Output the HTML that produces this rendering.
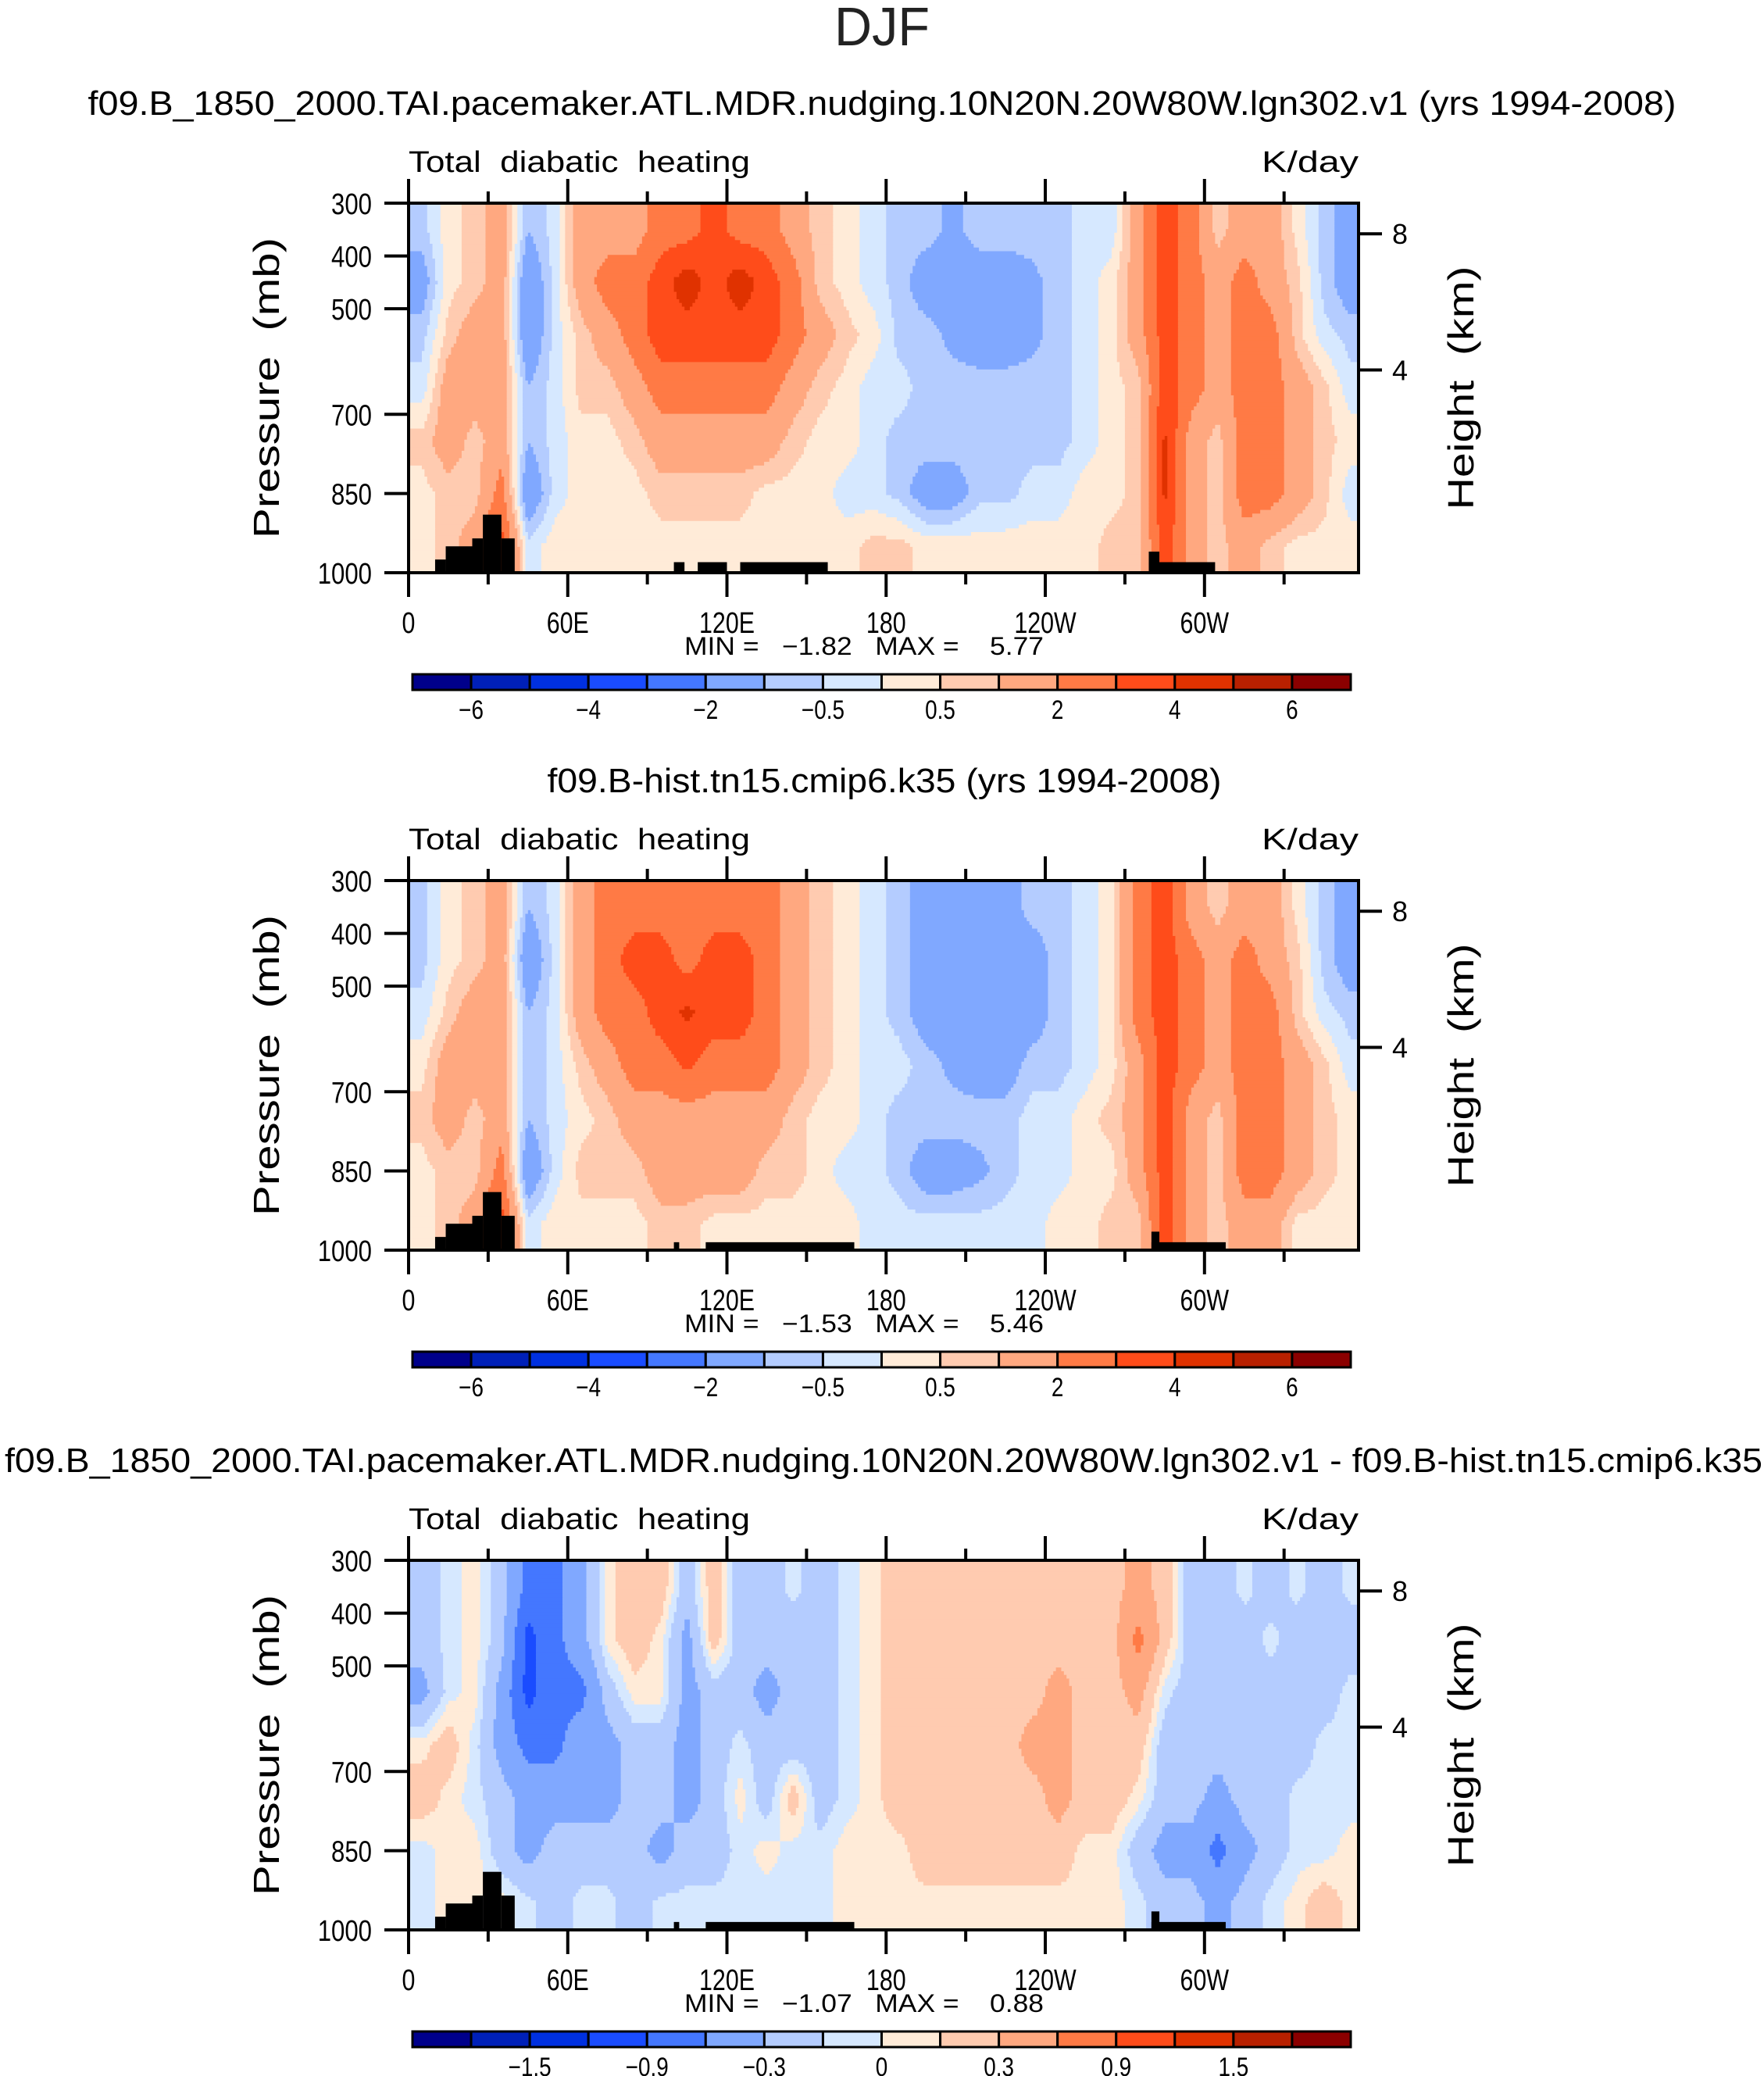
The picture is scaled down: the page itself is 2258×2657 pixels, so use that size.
<!DOCTYPE html>
<html><head><meta charset="utf-8"><style>
html,body{margin:0;padding:0;background:#fff;}
svg{display:block;font-family:"Liberation Sans",sans-serif;}
text{white-space:pre;}
</style></head><body>
<svg id="fig" width="2258" height="2657" viewBox="0 0 2258 2657" xmlns="http://www.w3.org/2000/svg">
<rect x="0" y="0" width="2258" height="2657" fill="#fff"/>
<text x="1129" y="58" font-size="70" text-anchor="middle" textLength="122" lengthAdjust="spacingAndGlyphs" fill="#222">DJF</text>
</svg>
<script>
// ---- data ----
const lonCenters = [0,10,20,30,40,50,60,70,80,90,100,110,120,130,140,150,160,170,180,190,200,210,220,230,240,250,260,270,280,290,300,310,320,330,340,350];
const levelEdges = [300,400,500,600,700,800,900,1000];
const levels12 = [-6,-5,-4,-3,-2,-1,-0.5,0,0.5,1,2,3,4,5,6];
const levels3 = [-1.8,-1.5,-1.2,-0.9,-0.6,-0.3,-0.1,0,0.1,0.3,0.6,0.9,1.2,1.5,1.8];
const barLabels12 = ["-6","-4","-2","-0.5","0.5","2","4","6"];
const barLabelIdx12 = [1,3,5,7,9,11,13,15];
const barLabels3 = ["-1.5","-0.9","-0.3","0","0.3","0.9","1.5"];
const barLabelIdx3 = [2,4,6,8,10,12,14];
const lonTickVals = [0,60,120,180,240,300];
const lonTickLabels = ["0","60E","120E","180","120W","60W"];
const presTicks = [300,400,500,700,850,1000];
const heightTickP = [358,616];
const heightTickLabels = ["8","4"];
const palette = ["#00008b","#0020b8","#0030e0","#1a4cff","#4477ff","#80a8ff","#b4ccff","#d6e8ff","#ffebd8","#ffcbb0","#ffa880","#ff7a45","#ff4c1a","#e03200","#b82000","#8b0000"];

const field1 = [
[-0.7,0.3,0.7,1.5,-1.0,-0.3,1.5,1.5,1.5,2.5,2.5,3.5,2.5,2.5,1.5,0.7,0.3,-0.3,-0.7,-0.7,-1.2,-0.7,-0.7,-0.7,-0.7,-0.3,-0.3,1.5,3.5,2.5,0.7,1.5,1.5,0.3,-0.7,-1.5],
[-1.5,0.3,0.7,1.5,-1.9,-0.3,1.5,2.5,2.5,3.5,4.6,3.5,4.6,3.5,2.5,0.7,0.3,-0.3,-0.7,-1.5,-1.5,-1.5,-1.5,-1.2,-0.7,-0.3,0.3,1.5,3.5,2.5,1.5,2.5,1.5,0.7,-0.7,-1.5],
[-0.7,0.7,1.5,1.5,-1.9,-0.3,0.7,1.5,2.5,3.5,3.5,3.5,3.5,3.5,2.5,1.5,0.7,0.3,-0.7,-0.7,-1.2,-1.5,-1.5,-1.2,-0.7,-0.3,0.3,1.5,3.5,2.5,1.5,2.5,2.5,0.7,-0.3,-0.7],
[-0.3,1.5,1.5,1.5,-1.0,-0.3,0.7,0.7,1.5,2.5,2.5,2.5,2.5,2.5,1.5,0.7,0.3,-0.3,-0.3,-0.7,-0.7,-0.7,-0.7,-0.7,-0.7,-0.3,0.3,0.7,3.5,2.5,1.5,2.5,2.5,1.5,0.7,-0.3],
[0.7,1.5,0.7,1.5,-1.0,-0.3,0.3,0.3,0.7,1.5,1.5,1.5,1.5,1.5,0.7,0.3,0.3,-0.3,-0.7,-0.7,-0.7,-0.7,-0.7,-0.7,-0.7,-0.3,0.3,0.7,4.2,1.5,0.7,2.5,2.5,1.5,0.7,0.3],
[0.3,0.7,0.7,2.5,-1.9,-0.3,0.3,0.3,0.3,0.7,0.7,0.7,0.7,0.3,0.3,0.3,-0.3,-0.3,-0.7,-1.5,-1.5,-0.7,-0.7,-0.3,-0.3,0.3,0.3,0.7,4.2,1.5,0.7,2.5,2.5,1.5,0.7,-0.3],
[0.3,0.7,1.5,3.5,-0.3,0.3,0.3,0.3,0.3,0.3,0.3,0.3,0.3,0.3,0.3,0.3,0.3,0.7,0.7,0.3,0.3,0.3,0.3,0.3,0.3,0.3,0.7,0.7,3.5,1.5,0.7,1.5,0.7,0.3,0.3,0.3]
];
const field2 = [
[-0.7,0.3,0.7,1.5,-1.0,-0.3,1.5,2.5,2.5,2.5,2.5,2.5,2.5,2.5,1.5,0.7,0.3,-0.3,-0.7,-1.5,-1.5,-1.5,-1.5,-0.7,-0.7,-0.3,0.3,2.5,3.5,1.5,0.7,1.5,1.5,0.3,-0.7,-1.5],
[-0.7,0.3,0.7,1.5,-1.9,-0.3,1.5,2.5,3.5,3.5,2.5,3.5,3.5,2.5,1.5,0.7,0.3,-0.3,-0.7,-1.5,-1.5,-1.5,-1.5,-1.5,-0.7,-0.3,0.3,2.5,3.5,2.5,1.5,2.5,1.5,0.7,-0.7,-1.5],
[-0.3,0.7,1.5,1.5,-1.0,-0.3,1.5,2.5,2.5,3.5,4.2,3.5,3.5,2.5,1.5,0.7,0.3,-0.3,-0.7,-1.5,-1.5,-1.5,-1.5,-1.5,-0.7,-0.3,0.3,2.5,3.5,2.5,1.5,2.5,2.5,0.7,-0.3,-0.7],
[0.3,1.5,1.5,1.5,-1.0,-0.3,0.7,1.5,2.5,2.5,3.2,2.5,2.5,2.5,1.5,0.7,0.3,-0.3,-0.3,-0.7,-1.2,-1.5,-1.5,-0.7,-0.7,-0.3,0.3,1.5,3.5,2.5,1.5,2.5,2.5,1.5,0.7,-0.3],
[0.7,1.5,0.7,1.5,-1.0,-0.3,0.3,0.7,1.5,1.5,1.5,1.5,1.5,1.5,0.7,0.3,0.3,-0.3,-0.7,-0.7,-0.7,-0.7,-0.7,-0.3,-0.3,0.3,0.7,1.5,3.5,1.5,0.7,2.5,2.5,1.5,0.7,0.3],
[0.3,0.7,0.7,2.5,-1.9,-0.3,0.7,0.7,0.7,1.5,1.5,1.5,1.5,0.7,0.7,0.3,-0.3,-0.3,-0.7,-1.5,-1.5,-1.2,-0.7,-0.3,-0.3,0.3,0.3,1.5,3.5,1.5,0.7,2.5,2.5,1.5,0.7,0.3],
[0.3,0.7,1.5,3.5,-0.3,0.3,0.3,0.3,0.3,0.7,0.7,0.3,0.3,0.3,0.3,0.3,0.3,-0.3,-0.3,-0.3,-0.3,-0.3,-0.3,-0.3,0.3,0.3,0.7,0.7,3.5,1.5,0.7,1.5,1.5,0.3,0.3,0.3]
];
const field3 = [
[-0.2,-0.05,0.05,-0.2,-0.7,-0.7,-0.4,0.05,0.2,0.2,-0.2,0.2,-0.2,-0.2,-0.05,-0.2,-0.05,0.05,0.2,0.2,0.2,0.2,0.2,0.2,0.2,0.2,0.2,0.4,0.2,-0.2,-0.2,-0.05,-0.2,-0.05,-0.2,-0.05],
[-0.2,-0.05,0.05,-0.2,-1.0,-0.7,-0.4,0.05,0.2,0.05,-0.4,0.2,-0.2,-0.2,-0.2,-0.2,-0.05,0.05,0.2,0.2,0.2,0.2,0.2,0.2,0.2,0.2,0.2,0.7,0.2,-0.2,-0.2,-0.2,-0.05,-0.2,-0.2,-0.2],
[-0.4,-0.05,0.05,-0.4,-1.0,-0.7,-0.7,-0.2,0.05,0.05,-0.4,-0.2,-0.2,-0.4,-0.2,-0.2,-0.05,0.05,0.2,0.2,0.2,0.2,0.2,0.2,0.4,0.2,0.2,0.4,-0.05,-0.2,-0.2,-0.2,-0.2,-0.2,-0.2,-0.05],
[0.05,0.2,-0.05,-0.4,-0.7,-0.7,-0.4,-0.4,-0.2,-0.2,-0.4,-0.2,-0.05,-0.2,-0.2,-0.2,-0.05,0.05,0.2,0.2,0.2,0.2,0.2,0.4,0.4,0.2,0.2,0.2,-0.2,-0.2,-0.2,-0.2,-0.2,-0.2,-0.05,-0.05],
[0.2,0.05,-0.05,-0.2,-0.4,-0.4,-0.4,-0.4,-0.2,-0.2,-0.4,-0.2,0.05,-0.2,0.2,-0.2,-0.05,0.05,0.2,0.2,0.2,0.2,0.2,0.2,0.4,0.2,0.2,0.05,-0.2,-0.2,-0.4,-0.2,-0.2,-0.05,-0.05,-0.05],
[-0.05,0.05,0.05,-0.2,-0.4,-0.2,-0.2,-0.2,-0.2,-0.4,-0.2,-0.2,-0.05,0.05,-0.05,-0.05,0.05,0.05,0.05,0.2,0.2,0.2,0.2,0.2,0.2,0.05,0.05,-0.2,-0.4,-0.4,-0.7,-0.4,-0.2,-0.05,-0.05,0.05],
[-0.05,0.05,0.05,0.05,-0.05,-0.2,-0.05,-0.05,-0.2,-0.05,-0.05,-0.05,-0.05,-0.05,-0.05,-0.05,0.05,0.05,0.05,0.05,0.05,0.05,0.05,0.05,0.05,0.05,0.05,-0.05,-0.2,-0.2,-0.4,-0.2,-0.05,0.05,0.2,0.05]
];
// topography: [lonStart, lonEnd, surfacePressure]
const topo1 = [[10,14,975],[14,24,950],[24,28,935],[28,35,890],[35,40,935],[100,104,980],[109,120,980],[125,158,980],[279,283,960],[279,304,980]];
const topo23 = [[10,14,975],[14,24,950],[24,28,935],[28,35,890],[35,40,935],[100,102,985],[112,168,985],[280,283,965],[280,308,985]];
const subtitles = ["f09.B_1850_2000.TAI.pacemaker.ATL.MDR.nudging.10N20N.20W80W.lgn302.v1 (yrs 1994-2008)","f09.B-hist.tn15.cmip6.k35 (yrs 1994-2008)","f09.B_1850_2000.TAI.pacemaker.ATL.MDR.nudging.10N20N.20W80W.lgn302.v1 - f09.B-hist.tn15.cmip6.k35"];
const minVals = ["-1.82","-1.53","-1.07"];
const maxVals = ["5.77","5.46","0.88"];

// ---- layout ----
const NS="http://www.w3.org/2000/svg";
const svg=document.getElementById('fig');
const PX0=523, PX1=1739, PH=473;
const panelTops=[260,1127,1997];
const subX=[[1129,2033],[1132,863],[1131,2250]];
function mk(tag,attrs,parent){const e=document.createElementNS(NS,tag);for(const k in attrs)e.setAttribute(k,attrs[k]);(parent||svg).appendChild(e);return e;}
const xLon=l=>PX0+l*3.396;
function colorIdx(v,levs){let i=0;while(i<levs.length&&v>=levs[i])i++;return i;}
function sample(field,lon,p){
  const nC=lonCenters.length, nR=levelEdges.length-1;
  let fc=(lon-(lonCenters[0]+5))/10; fc=Math.max(0,Math.min(nC-1,fc));
  const rc=levelEdges.slice(0,-1).map((e,i)=>(e+levelEdges[i+1])/2);
  let fr=(p-rc[0])/(rc[1]-rc[0]); fr=Math.max(0,Math.min(nR-1,fr));
  const c0=Math.floor(fc),c1=Math.min(nC-1,c0+1),r0=Math.floor(fr),r1=Math.min(nR-1,r0+1);
  const tc=fc-c0,tr=fr-r0;
  const a=field[r0][c0]*(1-tc)+field[r0][c1]*tc;
  const b=field[r1][c0]*(1-tc)+field[r1][c1]*tc;
  return a*(1-tr)+b*tr;
}

panelTops.forEach((top,pi)=>{
  const yP=p=>top+(p-300)/700*PH;
  const g=mk('g',{});
  
  
  const field=[field1,field2,field3][pi];
  const levs=pi<2?levels12:levels3;
  const cells=mk('g',{},g);
  
  
  const dLon=1, dP=7, maxLon=(PX1-PX0)/3.396;
  for(let p=300;p<1000;p+=dP){
    let runStart=0, runIdx=colorIdx(sample(field,0.5,p+dP/2),levs);
    const flush=(endLon)=>{
      const x0=xLon(runStart), x1=xLon(Math.min(endLon,maxLon));
      const r=mk('rect',{x:x0,y:yP(p),width:x1-x0+0.5,height:yP(p+dP)-yP(p)+0.5,fill:palette[runIdx]},cells);
      
      
    };
    for(let l=dLon;l<maxLon;l+=dLon){
      const ci=colorIdx(sample(field,l+dLon/2,p+dP/2),levs);
      if(ci!==runIdx){flush(l);runStart=l;runIdx=ci;}
    }
    flush(maxLon);
  }
  const topo=pi===0?topo1:topo23;
  topo.forEach(t=>{
    const r=mk('rect',{x:xLon(t[0]),y:yP(t[2]),width:xLon(t[1])-xLon(t[0]),height:yP(1000)-yP(t[2]),fill:'#000'},g);
    
    
  });
  const fr=mk('rect',{x:PX0,y:top,width:PX1-PX0,height:PH,fill:'none',stroke:'#000','stroke-width':4},g);
  
  
  for(let l=0;l<=330;l+=30){
    const major=l%60===0, len=major?31:15;
    mk('line',{x1:xLon(l),x2:xLon(l),y1:top,y2:top-len,stroke:'#000','stroke-width':4},g);
    mk('line',{x1:xLon(l),x2:xLon(l),y1:top+PH,y2:top+PH+len,stroke:'#000','stroke-width':4},g);
  }
  lonTickVals.forEach((l,i)=>{
    const x=xLon(l);
    const t=mk('text',{x:x,y:top+PH+77,'font-size':38,'text-anchor':'middle',transform:'translate('+x+',0) scale(0.8,1) translate('+(-x)+',0)'},g);
    t.textContent=lonTickLabels[i];
    
    
  });
  presTicks.forEach(p=>{
    mk('line',{x1:PX0-31,x2:PX0,y1:yP(p),y2:yP(p),stroke:'#000','stroke-width':4},g);
    const t=mk('text',{x:476,y:yP(p)+14,'font-size':38,'text-anchor':'end',transform:'translate(476,0) scale(0.82,1) translate(-476,0)'},g);
    t.textContent=String(p);
    
    
  });
  heightTickP.forEach((p,i)=>{
    mk('line',{x1:PX1,x2:PX1+30,y1:yP(p),y2:yP(p),stroke:'#000','stroke-width':4},g);
    const t=mk('text',{x:1782,y:yP(p)+13,'font-size':36},g);
    t.textContent=heightTickLabels[i];
    
    
  });
  const cy=top+PH/2;
  const yl=mk('text',{x:0,y:0,'font-size':46,'text-anchor':'middle',transform:'translate(357,'+cy+') rotate(-90)',textLength:385,lengthAdjust:'spacingAndGlyphs'},g);
  yl.textContent='Pressure  (mb)';
  
  
  const hl=mk('text',{x:0,y:0,'font-size':46,'text-anchor':'middle',transform:'translate(1886,'+cy+') rotate(-90)',textLength:312,lengthAdjust:'spacingAndGlyphs'},g);
  hl.textContent='Height  (km)';
  
  
  const lt=mk('text',{x:523,y:top-40,'font-size':38,textLength:437,lengthAdjust:'spacingAndGlyphs'},g);
  lt.textContent='Total  diabatic  heating';
  
  
  const rt=mk('text',{x:1739,y:top-40,'font-size':38,'text-anchor':'end',textLength:124,lengthAdjust:'spacingAndGlyphs'},g);
  rt.textContent='K/day';
  
  
  const st=mk('text',{x:subX[pi][0],y:top-113,'font-size':44,'text-anchor':'middle',textLength:subX[pi][1],lengthAdjust:'spacingAndGlyphs'},g);
  st.textContent=subtitles[pi];
  
  
  const mm=mk('text',{x:1106,y:top+PH+105,'font-size':32,'text-anchor':'middle',textLength:460,lengthAdjust:'spacingAndGlyphs'},g);
  mm.textContent='MIN =   '+minVals[pi].replace('-','\u2212')+'   MAX =    '+maxVals[pi];
  
  
  const cb=mk('g',{},g);
  
  
  const CB0=528,CB1=1729,cbY=top+603,bw=(CB1-CB0)/16;
  palette.forEach((c,i)=>{
    const r=mk('rect',{x:CB0+i*bw,y:cbY,width:bw,height:20,fill:c,stroke:'#000','stroke-width':3},cb);
    
    
  });
  const labs=pi<2?barLabels12:barLabels3, idx=pi<2?barLabelIdx12:barLabelIdx3;
  labs.forEach((s,i)=>{
    const x=CB0+idx[i]*bw;
    const t=mk('text',{x:x,y:cbY+57,'font-size':34,'text-anchor':'middle',transform:'translate('+x+',0) scale(0.82,1) translate('+(-x)+',0)'},cb);
    t.textContent=s.replace('-','\u2212');
    
    
  });
});
</script>
</body></html>
